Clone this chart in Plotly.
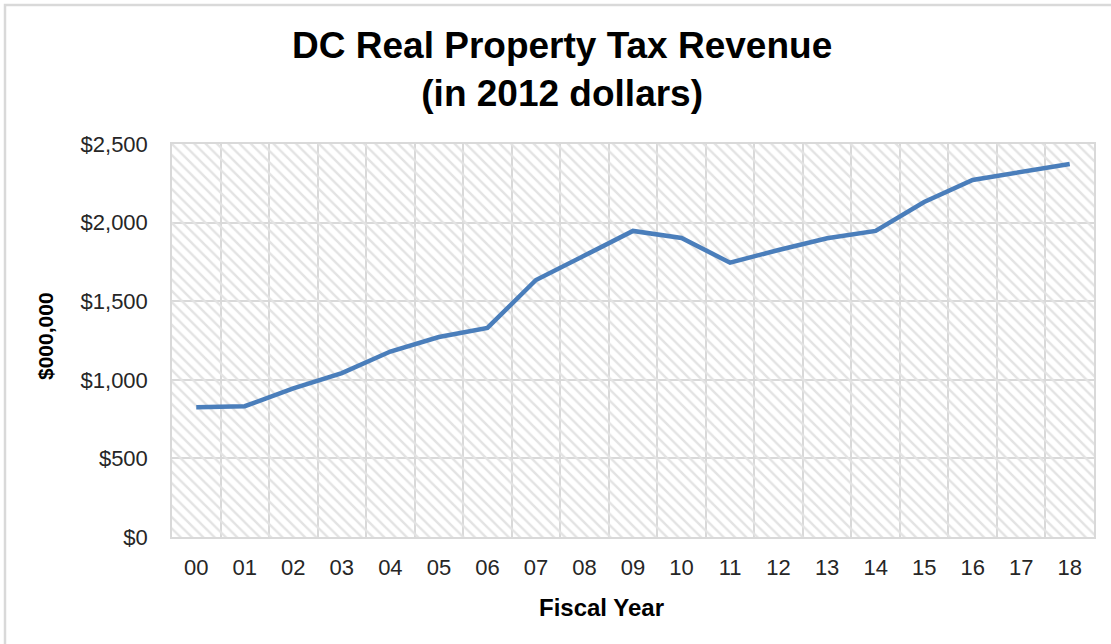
import plotly.graph_objects as go

years = ["00", "01", "02", "03", "04", "05", "06", "07", "08", "09",
         "10", "11", "12", "13", "14", "15", "16", "17", "18"]
revenue = [826, 832, 945, 1043, 1180, 1272, 1330, 1635, 1790, 1947,
           1902, 1745, 1826, 1900, 1947, 2131, 2271, 2325, 2373]
y_ticks = [0, 500, 1000, 1500, 2000, 2500]
y_tick_labels = ["$0", "$500", "$1,000", "$1,500", "$2,000", "$2,500"]
y_max = 2500

FONT = "Liberation Sans, Arial, sans-serif"
GRID = "#d9d9d9"

fig = go.Figure()

# hatched plot-area background
fig.add_trace(go.Bar(
    x=years, y=[y_max] * len(years), width=1,
    marker=dict(color="rgba(0,0,0,0)", line=dict(width=0),
                pattern=dict(shape="\\", fgcolor="#e3e3e3", bgcolor="rgba(0,0,0,0)",
                             size=8, solidity=0.3, fillmode="replace")),
    hoverinfo="skip", showlegend=False,
))

fig.add_trace(go.Scatter(
    x=years, y=revenue, mode="lines",
    line=dict(color="#4A7EBB", width=4.5),
    showlegend=False,
))

fig.update_layout(
    width=1111, height=644,
    margin=dict(l=172, r=17, t=144, b=107),
    paper_bgcolor="white", plot_bgcolor="white",
    font=dict(family=FONT, color="#262626"),
    title=dict(text="<b>DC Real Property Tax Revenue<br>(in 2012 dollars)</b>",
               x=0.506, xanchor="center", y=1 - 58 / 644, yanchor="middle",
               font=dict(size=37, color="#000000", family=FONT)),
    bargap=0,
)
fig.update_xaxes(
    type="category", tickson="boundaries", showgrid=True, gridcolor=GRID, gridwidth=1.5,
    showline=True, linecolor=GRID, linewidth=1.5, mirror=True,
    ticks="", tickfont=dict(size=22, color="#262626"), ticklabelstandoff=10,
    range=[-0.5, 18.5],
)
fig.update_yaxes(
    range=[0, y_max], tickvals=y_ticks, ticktext=y_tick_labels,
    showgrid=True, gridcolor=GRID, gridwidth=1.5, zeroline=False,
    showline=True, linecolor=GRID, linewidth=1.5, mirror=True,
    ticks="", tickfont=dict(size=22, color="#262626"), ticklabelstandoff=18,
)

fig.add_annotation(text="<b>Fiscal Year</b>", xref="paper", yref="paper",
                   x=(601 - 172) / 922, y=-(607 - 537) / 393,
                   xanchor="center", yanchor="middle", showarrow=False,
                   font=dict(size=24, color="#000000", family=FONT))
fig.add_annotation(text="<b>$000,000</b>", xref="paper", yref="paper",
                   x=-(172 - 45) / 922, y=(537 - 336) / 393, textangle=-90,
                   xanchor="center", yanchor="middle", showarrow=False,
                   font=dict(size=21, color="#000000", family=FONT))

# outer chart border
fig.add_shape(type="rect", xref="paper", yref="paper",
              x0=-(172 - 5) / 922, x1=1.5, y0=-1.0, y1=(537 - 5) / 393,
              line=dict(color=GRID, width=2.5), fillcolor="rgba(0,0,0,0)", layer="below")

fig.write_html("out.html", config={"displayModeBar": False},
               post_script="document.body.style.margin='0';")
